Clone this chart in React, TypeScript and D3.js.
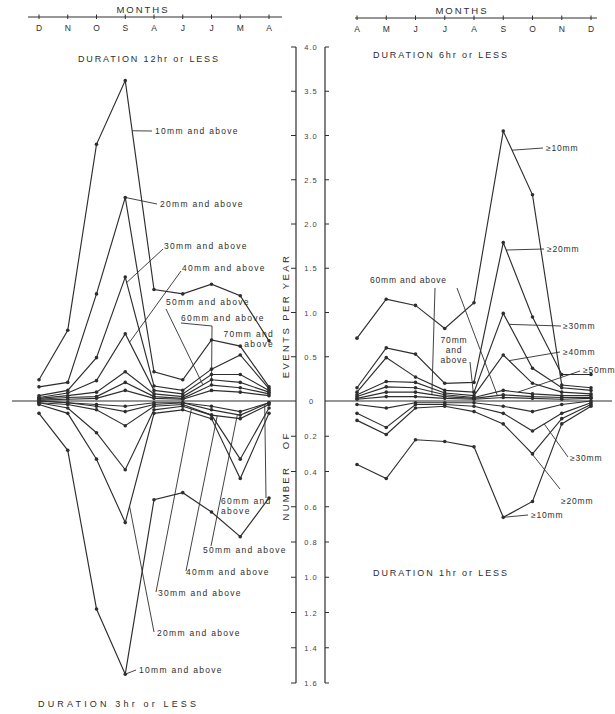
import * as d3 from 'd3';

// month order as printed on each panel
const monthsLeft = ['D', 'N', 'O', 'S', 'A', 'J', 'J', 'M', 'A'];
const monthsRight = ['A', 'M', 'J', 'J', 'A', 'S', 'O', 'N', 'D'];

const upperTicks = [0.5, 1.0, 1.5, 2.0, 2.5, 3.0, 3.5, 4.0];
const lowerTicks = [0.2, 0.4, 0.6, 0.8, 1.0, 1.2, 1.4, 1.6];

// events per year, rows = 10mm, 20mm, 30mm ... and above
const dur12hr = [
  [0.24, 0.8, 2.9, 3.62, 1.26, 1.21, 1.32, 1.19, 0.68],
  [0.16, 0.21, 1.21, 2.3, 0.33, 0.24, 0.69, 0.62, 0.16],
  [0.06, 0.12, 0.49, 1.4, 0.17, 0.12, 0.36, 0.52, 0.14],
  [0.04, 0.09, 0.23, 0.76, 0.12, 0.08, 0.3, 0.3, 0.12],
  [0.03, 0.06, 0.1, 0.33, 0.08, 0.05, 0.24, 0.21, 0.1],
  [0.02, 0.04, 0.05, 0.21, 0.05, 0.03, 0.18, 0.15, 0.08],
  [0.01, 0.02, 0.03, 0.12, 0.03, 0.02, 0.12, 0.1, 0.06],
];

const dur3hr = [
  [0.07, 0.28, 1.18, 1.55, 0.56, 0.52, 0.63, 0.77, 0.55],
  [0.02, 0.07, 0.33, 0.69, 0.07, 0.05, 0.1, 0.44, 0.07],
  [0.01, 0.04, 0.18, 0.39, 0.05, 0.03, 0.08, 0.33, 0.04],
  [0.01, 0.02, 0.05, 0.14, 0.03, 0.02, 0.08, 0.1, 0.02],
  [0.0, 0.01, 0.03, 0.06, 0.02, 0.01, 0.05, 0.08, 0.01],
  [0.0, 0.01, 0.02, 0.03, 0.01, 0.01, 0.03, 0.06, 0.01],
];

const dur6hr = [
  [0.71, 1.15, 1.08, 0.82, 1.11, 3.05, 2.33, 0.18, 0.15],
  [0.15, 0.6, 0.53, 0.2, 0.21, 1.79, 0.95, 0.3, 0.3],
  [0.1, 0.49, 0.27, 0.12, 0.1, 0.99, 0.37, 0.15, 0.12],
  [0.07, 0.22, 0.21, 0.09, 0.06, 0.52, 0.2, 0.1, 0.08],
  [0.05, 0.16, 0.15, 0.07, 0.04, 0.12, 0.08, 0.06, 0.06],
  [0.03, 0.1, 0.1, 0.05, 0.03, 0.07, 0.05, 0.04, 0.04],
  [0.02, 0.05, 0.05, 0.03, 0.02, 0.04, 0.03, 0.02, 0.03],
];

const dur1hr = [
  [0.36, 0.44, 0.22, 0.23, 0.26, 0.66, 0.57, 0.13, 0.03],
  [0.11, 0.19, 0.04, 0.03, 0.06, 0.13, 0.3, 0.1, 0.02],
  [0.07, 0.15, 0.02, 0.02, 0.03, 0.07, 0.17, 0.07, 0.01],
  [0.02, 0.04, 0.01, 0.01, 0.01, 0.03, 0.06, 0.02, 0.0],
];

const FONT = 'Liberation Sans, Arial, sans-serif';
const INK = '#2e2e2e';

export default function App() {
  const W = 615;
  const H = 714;

  const xL = d3.scaleLinear().domain([0, 8]).range([39, 269]);
  const xR = d3.scaleLinear().domain([0, 8]).range([357, 591]);
  const yUp = d3.scaleLinear().domain([0, 4]).range([401, 47]);
  const yDn = d3.scaleLinear().domain([0, 1.6]).range([401, 683]);

  const panels = [
    { rows: dur12hr, x: xL, y: yUp },
    { rows: dur3hr, x: xL, y: yDn },
    { rows: dur6hr, x: xR, y: yUp },
    { rows: dur1hr, x: xR, y: yDn },
  ];

  // point on a series at fractional month index t
  const at = (p: number, s: number, t: number): [number, number] => {
    const { rows, x, y } = panels[p];
    const r = rows[s];
    const i = Math.min(Math.floor(t), r.length - 2);
    const f = t - i;
    return [x(t), y(r[i] + (r[i + 1] - r[i]) * f)];
  };

  const notes = [
    { p: 0, s: 0, t: 3.24, lines: ['10mm and above'], tx: 155, ty: 134, from: [152, 131] },
    { p: 0, s: 1, t: 3.0, lines: ['20mm and above'], tx: 160, ty: 207, from: [157, 204] },
    { p: 0, s: 2, t: 3.05, lines: ['30mm and above'], tx: 164, ty: 249, from: [163, 249] },
    { p: 0, s: 3, t: 3.15, lines: ['40mm and above'], tx: 182, ty: 271, from: [181, 271] },
    { p: 0, s: 4, t: 5.7, lines: ['50mm and above'], tx: 166, ty: 305, from: [166, 309] },
    { p: 0, s: 5, t: 6.0, lines: ['60mm and above'], tx: 181, ty: 321, from: [181, 323], via: [[212, 326]] },
    { p: 0, s: 6, t: 7.6, lines: ['70mm and', 'above'], tx: 274, ty: 337, anchor: 'end' },
    { p: 1, s: 0, t: 3.0, lines: ['10mm and above'], tx: 139, ty: 673, from: [136, 670] },
    { p: 1, s: 1, t: 3.15, lines: ['20mm and above'], tx: 157, ty: 636, from: [154, 632] },
    { p: 1, s: 2, t: 5.3, lines: ['30mm and above'], tx: 158, ty: 596, from: [156, 592] },
    { p: 1, s: 3, t: 6.2, lines: ['40mm and above'], tx: 186, ty: 575, from: [186, 571] },
    { p: 1, s: 4, t: 6.9, lines: ['50mm and above'], tx: 203, ty: 553, from: [211, 546] },
    { p: 1, s: 5, t: 7.85, lines: ['60mm and', 'above'], tx: 221, ty: 504, from: [266, 498] },
    { p: 2, s: 0, t: 5.3, lines: ['≥10mm'], tx: 546, ty: 151, from: [543, 148] },
    { p: 2, s: 1, t: 5.1, lines: ['≥20mm'], tx: 547, ty: 252, from: [544, 249] },
    { p: 2, s: 2, t: 5.2, lines: ['≥30mm'], tx: 563, ty: 329, from: [561, 326] },
    { p: 2, s: 3, t: 5.2, lines: ['≥40mm'], tx: 563, ty: 355, from: [560, 352] },
    { p: 2, s: 4, t: 5.5, lines: ['≥50mm'], tx: 583, ty: 373, from: [580, 371] },
    { p: 2, s: 5, t: 2.56, lines: ['60mm and above'], tx: 370, ty: 283, from: [435, 288] },
    { p: 2, s: 5, t: 4.8, lines: [], tx: 0, ty: 0, from: [457, 288] },
    { p: 2, s: 6, t: 4.0, lines: ['70mm', 'and', 'above'], tx: 454, ty: 343, from: [470, 362], anchor: 'middle' },
    { p: 3, s: 2, t: 6.4, lines: ['≥30mm'], tx: 570, ty: 461, from: [568, 457] },
    { p: 3, s: 1, t: 5.9, lines: ['≥20mm'], tx: 561, ty: 504, from: [560, 489] },
    { p: 3, s: 0, t: 5.0, lines: ['≥10mm'], tx: 531, ty: 518, from: [528, 515] },
  ];

  const fmt = d3.format('.1f');

  const monthAxis = (x: d3.ScaleLinear<number, number>, labels: string[], y0: number, x0: number, x1: number, cx: number) => (
    <g>
      <line x1={x0} x2={x1} y1={y0} y2={y0} stroke={INK} strokeWidth={1} />
      {labels.map((m, i) => (
        <g key={i}>
          <line x1={x(i)} x2={x(i)} y1={y0 - 2.5} y2={y0 + 2} stroke={INK} strokeWidth={1} />
          <text x={x(i)} y={y0 + 14} textAnchor="middle" fontSize={8.5} fill={INK}>{m}</text>
        </g>
      ))}
      <text x={cx} y={y0 - 4} textAnchor="middle" fontSize={9.5} letterSpacing={2} fill={INK}>MONTHS</text>
    </g>
  );

  return (
    <svg width={W} height={H} style={{ position: 'absolute', left: 0, top: 0, background: '#fff' }} fontFamily={FONT}>
      <rect width={W} height={H} fill="#fff" />

      {monthAxis(xL, monthsLeft, 17, 28, 282, 143)}
      {monthAxis(xR, monthsRight, 18, 355, 597, 462)}

      <text x={78} y={62} fontSize={9} textLength={140} lengthAdjust="spacing" fill={INK}>DURATION 12hr or LESS</text>
      <text x={373} y={58} fontSize={9} textLength={134} lengthAdjust="spacing" fill={INK}>DURATION 6hr or LESS</text>
      <text x={38} y={707} fontSize={9} textLength={158} lengthAdjust="spacing" fill={INK}>DURATION 3hr or LESS</text>
      <text x={373} y={576} fontSize={9} textLength={134} lengthAdjust="spacing" fill={INK}>DURATION 1hr or LESS</text>

      {/* central value axes */}
      <line x1={296} x2={296} y1={yUp(4)} y2={yDn(1.6)} stroke={INK} strokeWidth={1.2} />
      <line x1={325} x2={325} y1={yUp(4)} y2={yDn(1.6)} stroke={INK} strokeWidth={1.2} />
      {upperTicks.map((v) => (
        <g key={'u' + v}>
          <line x1={291} x2={296} y1={yUp(v)} y2={yUp(v)} stroke={INK} />
          <line x1={325} x2={329} y1={yUp(v)} y2={yUp(v)} stroke={INK} />
          <text x={311} y={yUp(v) + 3} textAnchor="middle" fontSize={7.5} letterSpacing={1} fill="#444">{fmt(v)}</text>
        </g>
      ))}
      {lowerTicks.map((v) => (
        <g key={'d' + v}>
          <line x1={291} x2={296} y1={yDn(v)} y2={yDn(v)} stroke={INK} />
          <line x1={325} x2={329} y1={yDn(v)} y2={yDn(v)} stroke={INK} />
          <text x={311} y={yDn(v) + 3} textAnchor="middle" fontSize={7.5} letterSpacing={1} fill="#444">{fmt(v)}</text>
        </g>
      ))}
      <text x={311} y={yUp(0) + 3} textAnchor="middle" fontSize={7.5} fill="#444">0</text>

      {/* zero lines */}
      <line x1={12} x2={296} y1={yUp(0)} y2={yUp(0)} stroke={INK} strokeWidth={1.2} />
      <line x1={325} x2={612} y1={yUp(0)} y2={yUp(0)} stroke={INK} strokeWidth={1.2} />

      <text transform={`translate(289,${316}) rotate(-90)`} textAnchor="middle" fontSize={9.5} letterSpacing={2.4} fill={INK}>EVENTS PER YEAR</text>
      <text transform={`translate(289,${476}) rotate(-90)`} textAnchor="middle" fontSize={9.5} letterSpacing={2.2} wordSpacing={12} fill={INK}>NUMBER OF</text>

      {/* series */}
      {panels.map((pn, pi) => {
        const line = d3.line<number>().x((_, i) => pn.x(i)).y((d) => pn.y(d));
        return (
          <g key={pi}>
            {pn.rows.map((r, si) => (
              <g key={si}>
                <path d={line(r) || ''} fill="none" stroke={INK} strokeWidth={1.15} />
                {r.map((v, i) => (
                  <circle key={i} cx={pn.x(i)} cy={pn.y(v)} r={1.8} fill={INK} />
                ))}
              </g>
            ))}
          </g>
        );
      })}

      {/* labels with leaders */}
      {notes.map((n, k) => {
        const target = at(n.p, n.s, n.t);
        const pts: number[][] = n.from ? [n.from, ...(n.via || []), target] : [];
        const small = n.p >= 2;
        return (
          <g key={k}>
            {pts.length > 0 && (
              <polyline points={pts.map((q) => q.join(',')).join(' ')} fill="none" stroke={INK} strokeWidth={0.9} />
            )}
            {n.lines.map((t, j) => (
              <text key={j} x={n.tx} y={n.ty + j * 10} textAnchor={(n.anchor as any) || 'start'} fontSize={8.5} letterSpacing={small ? 0.8 : 1.3} fill={INK}>{t}</text>
            ))}
          </g>
        );
      })}
    </svg>
  );
}
